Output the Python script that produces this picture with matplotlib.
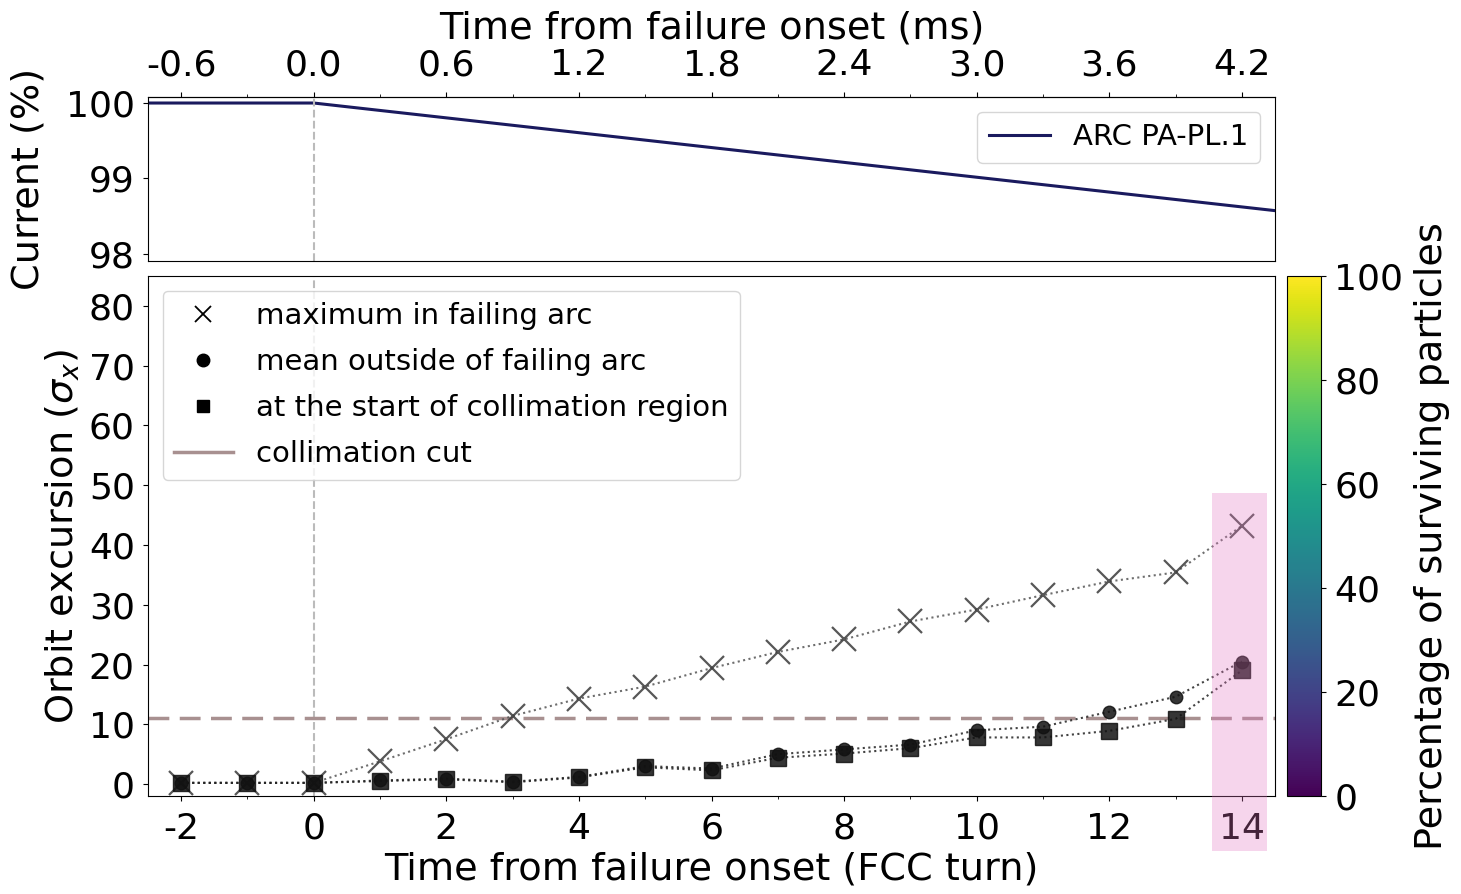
import matplotlib
matplotlib.use("Agg")
import matplotlib.pyplot as plt
import numpy as np
from matplotlib.lines import Line2D
from matplotlib.patches import Rectangle
from matplotlib.ticker import MultipleLocator

# --- datos ---
turns = [-2, -1, 0, 1, 2, 3, 4, 5, 6, 7, 8, 9, 10, 11, 12, 13, 14]
max_arc = [0.2, 0.2, 0.2, 3.8, 7.5, 11.4, 14.3, 16.3, 19.4, 22.1, 24.2,
           27.2, 29.2, 31.6, 33.9, 35.4, 43.2]
mean_out = [0.2, 0.2, 0.2, 0.6, 0.9, 0.4, 1.2, 3.0, 2.6, 5.0, 5.8,
            6.6, 9.0, 9.6, 12.1, 14.6, 20.5]
coll_start = [0.2, 0.2, 0.2, 0.5, 0.8, 0.3, 1.1, 2.8, 2.3, 4.4, 5.1,
              6.0, 7.8, 7.8, 8.9, 10.9, 19.0]
coll_cut = 11.0

cur_turns = [-2.5, 0.0, 14.5]
current = [100.0, 100.0, 98.57]

MS_PER_TURN = 0.3
ms_ticks = [-0.6, 0.0, 0.6, 1.2, 1.8, 2.4, 3.0, 3.6, 4.2]

plt.rcParams["font.size"] = 26
plt.rcParams["axes.labelsize"] = 27.5
plt.rcParams["axes.unicode_minus"] = False
plt.rcParams["xtick.major.pad"] = 6
plt.rcParams["ytick.major.pad"] = 6

fig = plt.figure(figsize=(14.61, 8.94), dpi=100)
ax_top = fig.add_axes([0.1013, 0.708, 0.7714, 0.1835])
ax = fig.add_axes([0.1013, 0.1096, 0.7714, 0.5817])
cax = fig.add_axes([0.881, 0.1096, 0.0233, 0.5817])

# panel superior: corriente
ax_top.plot(cur_turns, current, color="#1a1a5e", lw=2.2, label="ARC PA-PL.1")
ax_top.axvline(0, color="#bbbbbb", ls="--", lw=1.5)
ax_top.set_xlim(-2.5, 14.5)
ax_top.set_ylim(97.9, 100.08)
ax_top.set_yticks([98, 99, 100])
ax_top.set_ylabel("Current (%)", labelpad=14)
ax_top.tick_params(axis="x", bottom=False, labelbottom=False)
ax_top.legend(loc="upper right", fontsize=21, handlelength=2.1)

sec = ax_top.secondary_xaxis(
    "top", functions=(lambda t: t * MS_PER_TURN, lambda m: m / MS_PER_TURN))
sec.set_xticks(ms_ticks)
sec.xaxis.set_minor_locator(MultipleLocator(0.3))
sec.tick_params(axis="x", which="major", pad=7)
sec.set_xlabel("Time from failure onset (ms)", labelpad=7)

# panel inferior: excursion de orbita
ax.axvline(0, color="#bbbbbb", ls="--", lw=1.5, zorder=1)
ax.axhline(coll_cut, color="#a89090", ls=(0, (6, 3)), lw=2.5, zorder=1)

ax.plot(turns, max_arc, ls=":", color="#555555", lw=1.5, marker="x",
        ms=17, mew=1.6, mec="#3a3a3a", alpha=0.85, zorder=3)
ax.plot(turns, mean_out, ls=":", color="#222222", lw=1.5, marker="o",
        ms=9, mfc="#111111", mec="#111111", alpha=0.85, zorder=3)
ax.plot(turns, coll_start, ls=":", color="#222222", lw=1.5, marker="s",
        ms=11, mfc="#111111", mec="#111111", alpha=0.85, zorder=3)

ax.add_patch(Rectangle((13.55, -11.2), 0.83, 59.9, facecolor="#e377c2",
                       alpha=0.3, edgecolor="none", clip_on=False, zorder=5))

ax.set_xlim(-2.5, 14.5)
ax.set_ylim(-2, 85)
ax.set_xticks(range(-2, 15, 2))
ax.xaxis.set_minor_locator(MultipleLocator(1))
ax.tick_params(axis="x", which="major", pad=8)
ax.set_yticks(range(0, 81, 10))
ax.set_xlabel("Time from failure onset (FCC turn)", labelpad=4)
ax.set_ylabel("Orbit excursion ($\\sigma_x$)", labelpad=5)

handles = [
    Line2D([], [], ls="none", marker="x", color="k", ms=11, mew=1.3),
    Line2D([], [], ls="none", marker="o", color="k", ms=9),
    Line2D([], [], ls="none", marker="s", color="k", ms=9),
    Line2D([], [], color="#a89090", lw=2.5),
]
labels = ["maximum in failing arc", "mean outside of failing arc",
          "at the start of collimation region", "collimation cut"]
ax.legend(handles, labels, loc="upper left", fontsize=21, handlelength=2.0,
          labelspacing=0.62)

sm = plt.cm.ScalarMappable(cmap="viridis", norm=plt.Normalize(0, 100))
cb = fig.colorbar(sm, cax=cax)
cb.set_ticks([0, 20, 40, 60, 80, 100])
cb.set_label("Percentage of surviving particles", labelpad=8)

fig.savefig("out.png", dpi=100)
